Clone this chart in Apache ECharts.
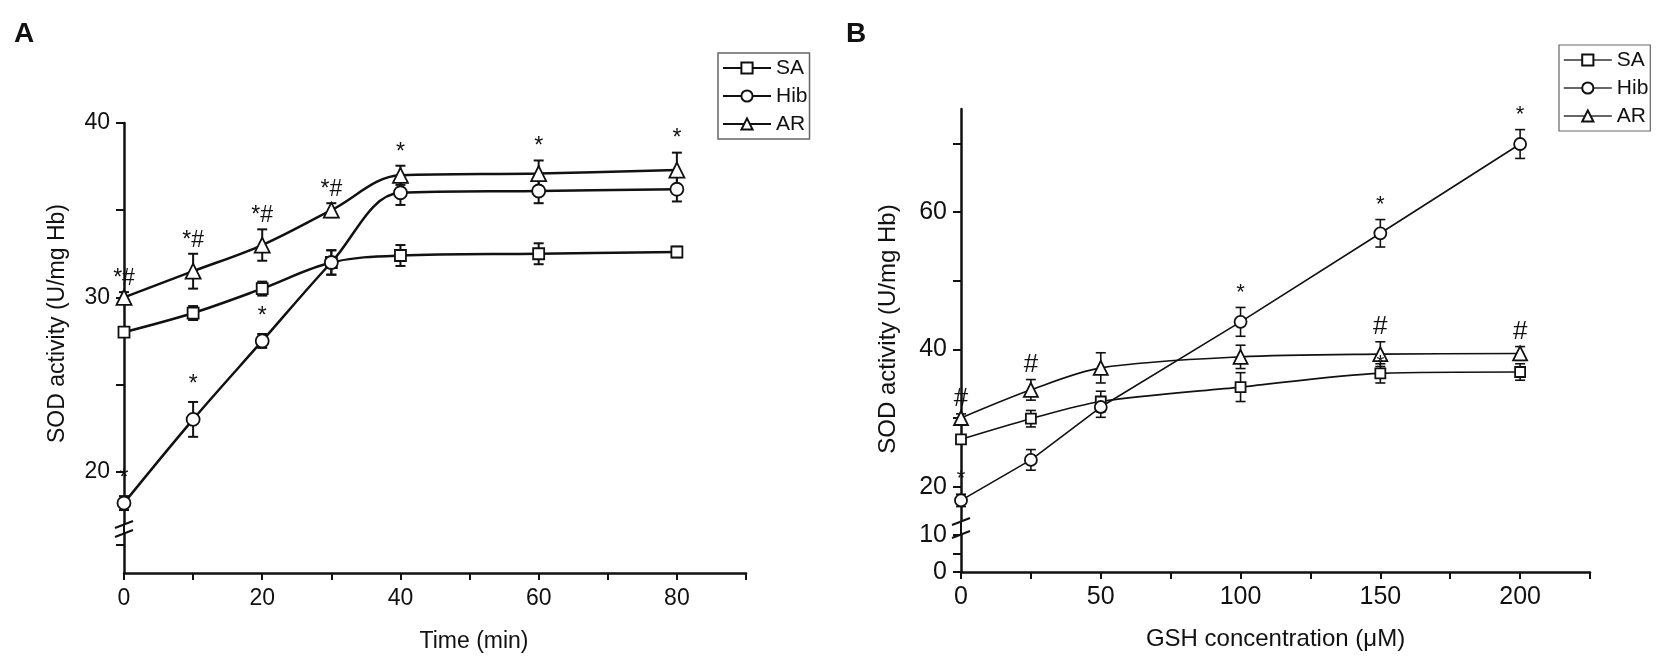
<!DOCTYPE html>
<html>
<head>
<meta charset="utf-8">
<title>SOD activity</title>
<script src="https://cdn.jsdelivr.net/npm/echarts@6.0.0/dist/echarts.min.js"></script>
<style>
  html, body { margin: 0; padding: 0; background: #fff; }
  #chart { width: 1667px; height: 667px; }
</style>
</head>
<body>
<div id="chart"></div>
<script>
// panel A: time course
const timeA = [0, 10, 20, 30, 40, 60, 80];
const saA = [28.0, 29.1, 30.5, 32.0, 32.4, 32.5, 32.6];
const saAErr = [0.2, 0.4, 0.4, 0.7, 0.6, 0.6, 0.3];
const hibA = [18.2, 23.0, 27.5, 32.0, 36.0, 36.1, 36.2];
const hibAErr = [0.4, 1.0, 0.4, 0.7, 0.7, 0.7, 0.7];
const arA = [30.0, 31.5, 33.0, 35.0, 37.0, 37.1, 37.3];
const arAErr = [0.3, 1.0, 0.9, 0.4, 0.55, 0.75, 1.0];
const hibATags = ['*', '*', '*', '', '', '', ''];
const arATags = ['*#', '*#', '*#', '*#', '*', '*', '*'];

// panel B: GSH concentration
const gshB = [0, 25, 50, 100, 150, 200];
const saB = [26.9, 29.9, 32.4, 34.5, 36.5, 36.7];
const saBErr = [0.6, 1.2, 1.5, 2.1, 1.4, 1.2];
const hibB = [18.0, 23.9, 31.6, 44.0, 56.9, 69.9];
const hibBErr = [0.9, 1.5, 1.5, 2.1, 2.0, 2.1];
const arB = [30.0, 34.1, 37.3, 38.9, 39.3, 39.4];
const arBErr = [0.6, 1.5, 2.2, 1.7, 1.8, 1.0];
const saBTags = ['', '', '', '', '*', ''];
const hibBTags = ['*', '', '', '*', '*', '*'];
const arBTags = ['#', '#', '', '', '#', '#'];

// tick positions
const xTicksA = [0, 10, 20, 30, 40, 50, 60, 70, 80, 90];
const xLabelsA = [0, 20, 40, 60, 80];
const yTicksA = [20, 25, 30, 35, 40];
const yLabelsA = [20, 30, 40];
const yTicksALow = [10];
const xTicksB = [0, 25, 50, 75, 100, 125, 150, 175, 200, 225];
const xLabelsB = [0, 50, 100, 150, 200];
const yTicksB = [20, 30, 40, 50, 60, 70];
const yLabelsB = [20, 40, 60];
const yTicksBLow = [0, 5, 10];
const yLabelsBLow = [0, 10];

const INK = '#111';
const FONT = 'Liberation Sans, Arial, sans-serif';

// layout of the two broken-axis panels
const LA = { left: 124, width: 622, top: 123, upperH: 401, gap: 10, lowerH: 39 };
const LB = { left: 961, width: 629, top: 109, upperH: 412, gap: 14, lowerH: 37 };

const chart = echarts.init(document.getElementById('chart'));

function lineSeries(name, x, y, symbol, size, xi, yi, width, smooth) {
  return {
    name: name, type: 'line', xAxisIndex: xi, yAxisIndex: yi, z: 3,
    data: x.map((v, i) => [v, y[i]]),
    symbol: symbol, symbolSize: size, showAllSymbol: true,
    smooth: smooth,
    lineStyle: { color: INK, width: width },
    itemStyle: { color: '#fff', borderColor: INK, borderWidth: 1.8 },
    emphasis: { disabled: true }
  };
}

function errorSeries(x, y, err, xi, yi, width) {
  return {
    type: 'custom', xAxisIndex: xi, yAxisIndex: yi, z: 1, silent: true,
    encode: { x: 0, y: [1, 2] },
    data: x.map((v, i) => [v, y[i] - err[i], y[i] + err[i]]),
    renderItem: function (params, api) {
      const lo = api.coord([api.value(0), api.value(1)]);
      const hi = api.coord([api.value(0), api.value(2)]);
      const st = { stroke: INK, lineWidth: width };
      const w = 5;
      return {
        type: 'group',
        children: [
          { type: 'line', shape: { x1: lo[0], y1: lo[1], x2: hi[0], y2: hi[1] }, style: st },
          { type: 'line', shape: { x1: lo[0] - w, y1: lo[1], x2: lo[0] + w, y2: lo[1] }, style: st },
          { type: 'line', shape: { x1: hi[0] - w, y1: hi[1], x2: hi[0] + w, y2: hi[1] }, style: st }
        ]
      };
    }
  };
}

function tagSeries(x, y, err, tags, xi, yi, size, lift) {
  return {
    type: 'custom', xAxisIndex: xi, yAxisIndex: yi, z: 4, silent: true,
    data: x.map((v, i) => [v, y[i] + err[i]]),
    renderItem: function (params, api) {
      const t = tags[params.dataIndex];
      if (!t) return null;
      const p = api.coord([api.value(0), api.value(1)]);
      return {
        type: 'text', x: p[0], y: p[1] - lift,
        style: { text: t, fontSize: size, fontFamily: FONT, fill: INK, align: 'center', verticalAlign: 'bottom' }
      };
    }
  };
}

function valueAxis(extra) {
  return Object.assign({
    type: 'value',
    splitLine: { show: false },
    axisLine: { show: true, onZero: false, lineStyle: { color: INK, width: 2.5 } },
    axisTick: { show: true, length: 8, lineStyle: { color: INK, width: 2 } },
    axisLabel: { color: INK, fontFamily: FONT, fontSize: 23 }
  }, extra);
}

function breakMarks(L) {
  const x = L.left;
  const y0 = L.top + L.upperH;
  const y1 = y0 + L.gap;
  const st = { stroke: INK, lineWidth: 2 };
  return [
    { type: 'line', shape: { x1: x, y1: y0, x2: x, y2: y1 }, style: st },
    { type: 'line', shape: { x1: x - 9, y1: y0 + 4, x2: x + 9, y2: y0 - 3 }, style: st },
    { type: 'line', shape: { x1: x - 9, y1: y1 + 3, x2: x + 9, y2: y1 - 4 }, style: st }
  ];
}

const legendBox = {
  orient: 'vertical', itemWidth: 48, itemHeight: 14, itemGap: 4,
  borderColor: '#666', borderWidth: 1.5, padding: [3, 2, 3, 4],
  textStyle: { color: INK, fontFamily: FONT, fontSize: 21, lineHeight: 24 },
  selectedMode: false
};

chart.setOption({
  animation: false,
  backgroundColor: '#fff',
  grid: [
    { left: LA.left, top: LA.top, width: LA.width, height: LA.upperH },
    { left: LA.left, top: LA.top + LA.upperH + LA.gap, width: LA.width, height: LA.lowerH },
    { left: LB.left, top: LB.top, width: LB.width, height: LB.upperH },
    { left: LB.left, top: LB.top + LB.upperH + LB.gap, width: LB.width, height: LB.lowerH }
  ],
  xAxis: [
    valueAxis({ gridIndex: 0, min: 0, max: 90, show: false }),
    valueAxis({
      gridIndex: 1, min: 0, max: 90,
      axisTick: { show: true, length: 7, customValues: xTicksA, lineStyle: { color: INK, width: 2 } },
      axisLabel: { color: INK, fontFamily: FONT, fontSize: 23, margin: 14, customValues: xLabelsA },
      name: 'Time (min)', nameLocation: 'middle', nameGap: 57,
      nameTextStyle: { color: INK, fontFamily: FONT, fontSize: 23, padding: [0, 0, 0, 78] }
    }),
    valueAxis({ gridIndex: 2, min: 0, max: 225, show: false }),
    valueAxis({
      gridIndex: 3, min: 0, max: 225,
      axisTick: { show: true, length: 7, customValues: xTicksB, lineStyle: { color: INK, width: 2 } },
      axisLabel: { color: INK, fontFamily: FONT, fontSize: 25, margin: 13, customValues: xLabelsB },
      name: 'GSH concentration (μM)', nameLocation: 'middle', nameGap: 55,
      nameTextStyle: { color: INK, fontFamily: FONT, fontSize: 24 }
    })
  ],
  yAxis: [
    valueAxis({
      gridIndex: 0, min: 17, max: 40,
      axisTick: { show: true, length: 8, customValues: yTicksA, lineStyle: { color: INK, width: 2 } },
      axisLabel: { color: INK, fontFamily: FONT, fontSize: 23, margin: 14, customValues: yLabelsA },
      name: 'SOD activity (U/mg Hb)', nameLocation: 'middle', nameGap: 55,
      nameTextStyle: { color: INK, fontFamily: FONT, fontSize: 23 }
    }),
    valueAxis({
      gridIndex: 1, min: 0, max: 14,
      axisTick: { show: true, length: 8, customValues: yTicksALow, lineStyle: { color: INK, width: 2 } },
      axisLabel: { show: false }
    }),
    valueAxis({
      gridIndex: 2, min: 15, max: 75,
      axisTick: { show: true, length: 8, customValues: yTicksB, lineStyle: { color: INK, width: 2 } },
      axisLabel: { color: INK, fontFamily: FONT, fontSize: 25, margin: 14, customValues: yLabelsB },
      name: 'SOD activity (U/mg Hb)', nameLocation: 'middle', nameGap: 61,
      nameTextStyle: { color: INK, fontFamily: FONT, fontSize: 24, padding: [0, 28, 0, 0] }
    }),
    valueAxis({
      gridIndex: 3, min: 0, max: 10,
      axisTick: { show: true, length: 8, customValues: yTicksBLow, lineStyle: { color: INK, width: 2 } },
      axisLabel: { color: INK, fontFamily: FONT, fontSize: 25, margin: 14, customValues: yLabelsBLow }
    })
  ],
  legend: [
    Object.assign({}, legendBox, { left: 718, top: 53, data: ['SA', 'Hib', 'AR'] }),
    Object.assign({}, legendBox, {
      left: 1559, top: 45, borderWidth: 1.2,
      data: ['SA', 'Hib', 'AR'].map(n => ({ name: n, lineStyle: { width: 1.6, color: '#333' } }))
    })
  ],
  graphic: [
    { type: 'text', left: 14, top: 20, style: { text: 'A', fontSize: 28, fontWeight: 'bold', fontFamily: FONT, fill: INK } },
    { type: 'text', left: 846, top: 20, style: { text: 'B', fontSize: 28, fontWeight: 'bold', fontFamily: FONT, fill: INK } }
  ].concat(breakMarks(LA), breakMarks(LB)),
  series: [
    errorSeries(timeA, saA, saAErr, 0, 0, 2),
    errorSeries(timeA, hibA, hibAErr, 0, 0, 2),
    errorSeries(timeA, arA, arAErr, 0, 0, 2),
    lineSeries('SA', timeA, saA, 'rect', 11, 0, 0, 2.5, 0.35),
    lineSeries('Hib', timeA, hibA, 'circle', 13, 0, 0, 2.5, 0.35),
    lineSeries('AR', timeA, arA, 'triangle', 15, 0, 0, 2.5, 0.35),
    tagSeries(timeA, hibA, hibAErr, hibATags, 0, 0, 23, 6),
    tagSeries(timeA, arA, arAErr, arATags, 0, 0, 23, 2),

    errorSeries(gshB, saB, saBErr, 2, 2, 1.6),
    errorSeries(gshB, hibB, hibBErr, 2, 2, 1.6),
    errorSeries(gshB, arB, arBErr, 2, 2, 1.6),
    lineSeries('SA', gshB, saB, 'rect', 10, 2, 2, 1.6, 0.3),
    lineSeries('Hib', gshB, hibB, 'circle', 12, 2, 2, 1.6, false),
    lineSeries('AR', gshB, arB, 'triangle', 14, 2, 2, 1.6, 0.3),
    tagSeries(gshB, saB, saBErr, saBTags, 2, 2, 20, -10),
    tagSeries(gshB, hibB, hibBErr, hibBTags, 2, 2, 22, 4),
    tagSeries(gshB, arB, arBErr, arBTags, 2, 2, 26, 2)
  ]
});
</script>
</body>
</html>
